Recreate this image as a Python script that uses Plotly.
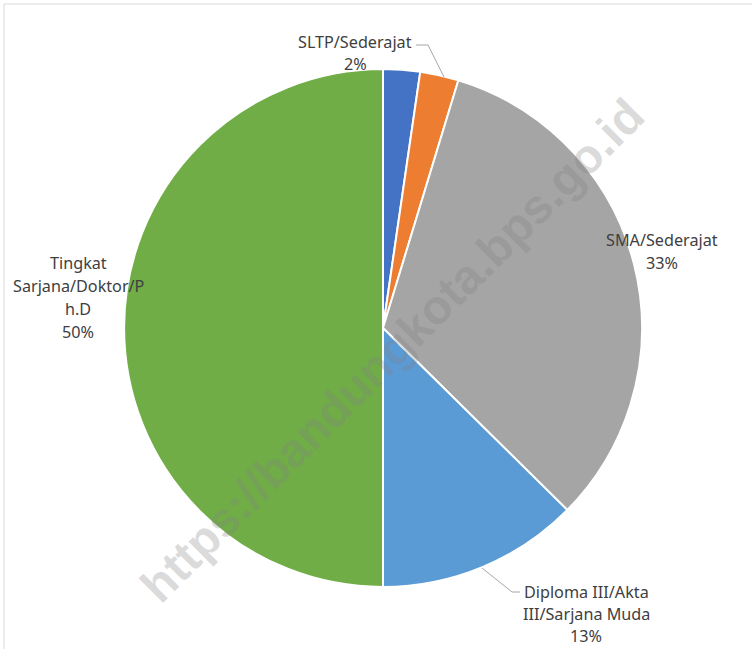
import plotly.graph_objects as go

W, H = 752, 649

categories = ["SD/Sederajat", "SLTP/Sederajat", "SMA/Sederajat",
              "Diploma III/Akta III/Sarjana Muda", "Tingkat Sarjana/Doktor/Ph.D"]
values = [2.3, 2.4, 32.7, 12.6, 50.0]
colors = ["#4472C4", "#ED7D31", "#A5A5A5", "#5B9BD5", "#70AD47"]

# label line breaks as shown in the chart (None = label not shown)
label_lines = [
    None,
    ["SLTP/Sederajat"],
    ["SMA/Sederajat"],
    ["Diploma III/Akta", "III/Sarjana Muda"],
    ["Tingkat", "Sarjana/Doktor/P", "h.D"],
]
# label anchor (center x, first line y) in pixels, and line step
label_pos = [None, (355, 42), (662, 240), (586, 592), (78, 263)]
label_step = [None, 22, 23, 22, 23]

watermark = "https://bandungkota.bps.go.id"

def px(x):
    return x / W

def py(y):
    return 1 - y / H

cx, cy, r = 383, 328, 259

fig = go.Figure(go.Pie(
    labels=categories,
    values=values,
    sort=False,
    direction="clockwise",
    rotation=0,
    marker=dict(colors=colors, line=dict(color="white", width=2)),
    textinfo="none",
    hoverinfo="label+percent",
    showlegend=False,
    domain=dict(x=[px(cx - r), px(cx + r)], y=[py(cy + r), py(cy - r)]),
))

total = sum(values)
annotations = []
for lines, pos, step, v in zip(label_lines, label_pos, label_step, values):
    if lines is None:
        continue
    all_lines = lines + [f"{100 * v / total:.0f}%"]
    for i, t in enumerate(all_lines):
        annotations.append(dict(
            x=px(pos[0]), y=py(pos[1] + i * step), xref="paper", yref="paper",
            text=t, showarrow=False, xanchor="center", yanchor="middle",
            font=dict(family="Noto Sans", size=16.2, color="#404040"),
        ))

annotations.append(dict(
    x=px(392), y=py(350), xref="paper", yref="paper", text=watermark,
    showarrow=False, textangle=-45, xanchor="center", yanchor="middle",
    font=dict(family="Liberation Sans", size=48, weight="bold",
              color="rgba(128,128,128,0.28)"),
))

shapes = [
    # frame (left and top)
    dict(type="line", xref="paper", yref="paper", x0=px(4), y0=py(4), x1=px(4), y1=0,
         line=dict(color="#D9D9D9", width=1)),
    dict(type="line", xref="paper", yref="paper", x0=px(4), y0=py(4), x1=1, y1=py(4),
         line=dict(color="#D9D9D9", width=1)),
    # leader lines
    dict(type="path", xref="paper", yref="paper",
         path=f"M {px(416)},{py(45)} L {px(428)},{py(45)} L {px(444)},{py(77)}",
         line=dict(color="#A6A6A6", width=1)),
    dict(type="path", xref="paper", yref="paper",
         path=f"M {px(482)},{py(568)} L {px(512)},{py(592)} L {px(520)},{py(592)}",
         line=dict(color="#A6A6A6", width=1)),
]

fig.update_layout(
    width=W, height=H,
    margin=dict(l=0, r=0, t=0, b=0),
    paper_bgcolor="white", plot_bgcolor="white",
    annotations=annotations, shapes=shapes,
)

fig.write_html(
    "out.html",
    config={"displayModeBar": False},
    post_script="document.body.style.margin='0';document.body.style.overflow='hidden';",
)
